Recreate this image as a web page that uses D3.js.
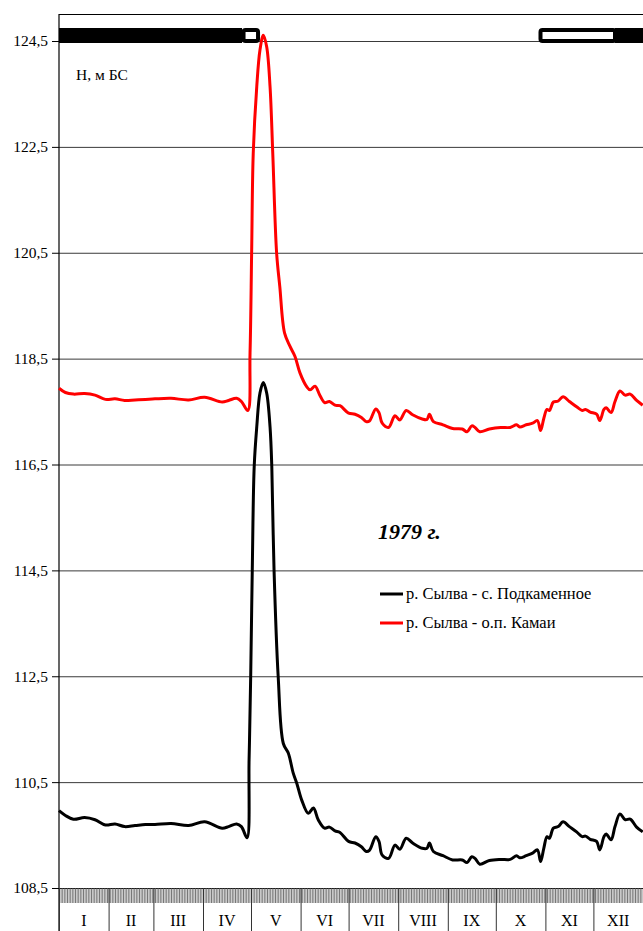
<!DOCTYPE html>
<html>
<head>
<meta charset="utf-8">
<script src="https://cdn.jsdelivr.net/npm/d3@7"></script>
<style>
  html, body { margin: 0; padding: 0; background: #fff; }
  svg { display: block; font-family: "Liberation Serif", "Times New Roman", serif; }
</style>
</head>
<body>
<div id="chart"></div>
<script>
// water level, m BS (day of year from 1 Jan 1979)
var kamaiDays = [0,4,9,16,22.5,29,35,41,47.5,54,60,70,81,91,102,106,111,114,118,119.4,120.4,121.4,123.6,125.6,127.7,129.8,131.9,133.6,136,138,141,144.4,147.5,150.6,154.8,157,160,163,166,169,172.5,175.6,181,185,189,192,194,198,200,202,206,210,213,217,221,227,230,231.5,234,240,246,252,255,258,260,263,269,276,282,286,288,292,296,299,301,303,305,306.5,309,312,315,319,323.5,327,329,332,336,338,340.6,342,345,347.5,350.6,353.8,357,361,364.8];
var kamaiLevel = [117.94,117.86,117.83,117.84,117.81,117.73,117.74,117.71,117.72,117.73,117.74,117.75,117.72,117.77,117.68,117.71,117.75,117.69,117.52,118.61,120.50,122.38,123.64,124.33,124.61,124.39,123.64,122.38,120.50,119.86,118.98,118.73,118.54,118.23,117.97,117.91,117.98,117.81,117.67,117.69,117.62,117.61,117.47,117.45,117.39,117.31,117.32,117.55,117.48,117.28,117.20,117.42,117.34,117.52,117.44,117.36,117.35,117.45,117.31,117.25,117.18,117.17,117.12,117.23,117.20,117.12,117.17,117.20,117.20,117.25,117.21,117.25,117.28,117.33,117.14,117.37,117.54,117.52,117.68,117.70,117.78,117.69,117.59,117.52,117.54,117.49,117.45,117.33,117.54,117.57,117.48,117.69,117.89,117.81,117.83,117.71,117.62];

var podkDays = [0,4,9,16,22.5,29,35,41,47.5,54,60,70,81,91,102,106,111,114,117.5,118.8,119.8,120.8,122,123.6,125.6,127.7,129.8,131.9,133,134.4,137,140.2,143.3,146.4,148.6,151.7,155.8,159,162,166,169,172.5,175.6,181,185,189,192,194,198,200,202,206,210,213,217,221,227,230,231.5,234,240,246,252,255,258,260,263,269,276,282,286,288,292,296,299,301,303,305,306.5,309,312,315,319,323.5,327,329,332,336,338,340.6,342,345,347.5,350.6,353.8,357,361,364.8];
var podkLevel = [109.96,109.87,109.80,109.83,109.79,109.69,109.71,109.66,109.68,109.70,109.70,109.72,109.68,109.75,109.63,109.66,109.71,109.66,109.45,110.92,112.49,114.51,116.46,117.21,117.85,118.05,117.85,117.21,116.46,114.51,112.49,111.23,111.05,110.67,110.48,110.16,109.91,110.01,109.79,109.63,109.65,109.58,109.55,109.38,109.35,109.28,109.19,109.21,109.47,109.38,109.12,109.06,109.31,109.23,109.44,109.35,109.25,109.25,109.35,109.19,109.11,109.03,109.03,108.98,109.09,109.06,108.95,109.02,109.04,109.04,109.11,109.07,109.11,109.16,109.22,109.00,109.25,109.47,109.44,109.63,109.66,109.75,109.66,109.56,109.47,109.48,109.42,109.38,109.22,109.47,109.52,109.41,109.66,109.90,109.79,109.80,109.65,109.56];

// ice phenomena: [start day, end day]
var iceCover = [[0, 114.4], [347.5, 365]];
var iceDrift = [[114.4, 124.4], [300, 347.5]];

var monthStarts = [0,31,59,90,120,151,181,212,243,273,304,334,365];
var monthNames = ["I","II","III","IV","V","VI","VII","VIII","IX","X","XI","XII"];
var levelTicks = [108.5,110.5,112.5,114.5,116.5,118.5,120.5,122.5,124.5];

var seriesNames = ["р. Сылва - с. Подкаменное", "р. Сылва - о.п. Камаи"];
var seriesColors = ["#000000", "#ff0000"];

var width = 643, height = 931;
var plotLeft = 59, plotRight = 643, plotTop = 41, plotBottom = 888;

var svg = d3.select("#chart").append("svg")
  .attr("width", width)
  .attr("height", height);

var x = d3.scaleLinear().domain([0, 365]).range([plotLeft, plotRight]);
var y = d3.scaleLinear().domain([108.5, 124.5]).range([plotBottom, plotTop]);

var ru = d3.formatLocale({decimal: ",", thousands: " ", grouping: [3], currency: ["", ""]});
var fmt = ru.format(".1f");

// grid lines
svg.append("g")
  .attr("transform", "translate(" + plotLeft + ",0)")
  .call(d3.axisLeft(y).tickValues(levelTicks).tickSize(-(plotRight - plotLeft)).tickFormat(""))
  .call(g => g.select(".domain").remove())
  .call(g => g.selectAll("line").attr("stroke", "#3a3a3a").attr("stroke-width", 1));

// y axis
svg.append("g")
  .attr("transform", "translate(" + plotLeft + ",0)")
  .call(d3.axisLeft(y).tickValues(levelTicks).tickSize(7).tickPadding(4).tickFormat(fmt))
  .call(g => g.select(".domain").remove())
  .call(g => g.selectAll("line").attr("stroke", "#000"))
  .call(g => g.selectAll("text").attr("font-size", "15.5px").attr("font-family", "Liberation Serif, serif").attr("fill", "#000"));

// left axis line and top frame
svg.append("line").attr("x1", plotLeft).attr("x2", plotLeft).attr("y1", 14).attr("y2", height).attr("stroke", "#000").attr("stroke-width", 1.2);
svg.append("line").attr("x1", plotLeft).attr("x2", plotRight).attr("y1", 14.5).attr("y2", 14.5).attr("stroke", "#000").attr("stroke-width", 1.2);

// day ticks
svg.append("g")
  .attr("transform", "translate(0," + plotBottom + ")")
  .call(d3.axisBottom(x).tickValues(d3.range(0, 366)).tickSize(15).tickFormat(""))
  .call(g => g.select(".domain").attr("stroke", "#000"))
  .call(g => g.selectAll(".tick line").attr("stroke", "#555").attr("stroke-width", 0.8));

// month separators and labels
svg.append("g")
  .attr("transform", "translate(0," + plotBottom + ")")
  .call(d3.axisBottom(x).tickValues(monthStarts).tickSize(height - plotBottom).tickFormat(""))
  .call(g => g.select(".domain").remove())
  .call(g => g.selectAll(".tick line").attr("stroke", "#333").attr("stroke-width", 1));

svg.append("g").selectAll("text")
  .data(monthNames)
  .join("text")
  .attr("x", (d, i) => x((monthStarts[i] + monthStarts[i + 1]) / 2))
  .attr("y", 926)
  .attr("text-anchor", "middle")
  .attr("font-size", "16px")
  .text(d => d);

// ice bars
svg.append("g").selectAll("rect.cover")
  .data(iceCover)
  .join("rect")
  .attr("class", "cover")
  .attr("x", d => x(d[0]))
  .attr("width", d => x(d[1]) - x(d[0]))
  .attr("y", 28).attr("height", 15)
  .attr("fill", "#000");

svg.append("g").selectAll("rect.drift")
  .data(iceDrift)
  .join("rect")
  .attr("class", "drift")
  .attr("x", d => x(d[0]) + 1.5)
  .attr("width", d => x(d[1]) - x(d[0]) - 1.5)
  .attr("y", 30).attr("height", 11)
  .attr("rx", 2)
  .attr("fill", "#fff")
  .attr("stroke", "#000")
  .attr("stroke-width", 4);

// series
var line = d3.line()
  .x(d => x(d[0]))
  .y(d => y(d[1]))
  .curve(d3.curveCatmullRom.alpha(0.5));

var series = [
  d3.zip(podkDays, podkLevel),
  d3.zip(kamaiDays, kamaiLevel)
];

svg.append("g").selectAll("path")
  .data(series)
  .join("path")
  .attr("d", line)
  .attr("fill", "none")
  .attr("stroke", (d, i) => seriesColors[i])
  .attr("stroke-width", 3)
  .attr("stroke-linejoin", "round");

// labels
svg.append("text").attr("x", 76).attr("y", 80).attr("font-size", "15.5px").text("Н, м БС");
svg.append("text").attr("x", 378).attr("y", 539)
  .attr("font-size", "22px").attr("font-weight", "bold").attr("font-style", "italic")
  .text("1979 г.");

var legend = svg.append("g").selectAll("g")
  .data(seriesNames)
  .join("g")
  .attr("transform", (d, i) => "translate(380," + (594 + i * 29) + ")");
legend.append("line").attr("x1", 0).attr("x2", 23)
  .attr("stroke", (d, i) => seriesColors[i]).attr("stroke-width", 3);
legend.append("text").attr("x", 26).attr("y", 5).attr("font-size", "16.5px").text(d => d);
</script>
</body>
</html>
